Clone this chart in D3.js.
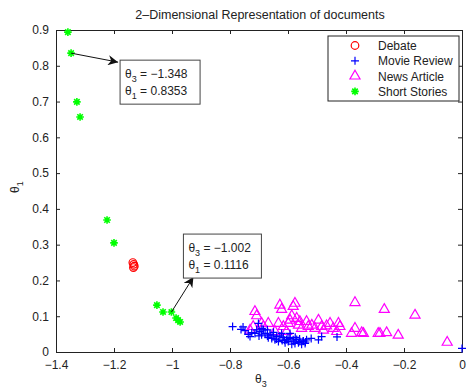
<!DOCTYPE html>
<html>
<head>
<meta charset="utf-8">
<script src="https://cdn.jsdelivr.net/npm/d3@7"></script>
<style>
  body { margin: 0; background: #fff; }
  text { font-family: "Liberation Sans", Arial, sans-serif; fill: #222; }
</style>
</head>
<body>
<svg id="chart" width="470" height="388"></svg>
<script>
// data
var debateX = [-1.135, -1.132, -1.130, -1.133]
var debateY = [0.250, 0.245, 0.240, 0.236]

var movieX = [-0.791, -0.762, -0.748, -0.737, -0.725, -0.714, -0.702, -0.697, -0.691, -0.679,
  -0.671, -0.662, -0.651, -0.639, -0.628, -0.616, -0.605, -0.593, -0.582, -0.570,
  -0.559, -0.547, -0.536, -0.495, -0.484, -0.622, -0.645, -0.599, -0.576, -0.553,
  -0.708, -0.685, -0.731, -0.656, -0.633, -0.610, -0.587, -0.564, -0.541, -0.593,
  -0.671, -0.431, -0.755, 0.000, -0.620, -0.580, -0.560, -0.600, -0.640, -0.540,
  -0.700, -0.668, -0.612, -0.575, -0.548, -0.520, -0.690, -0.650]
var movieY = [0.071, 0.063, 0.060, 0.049, 0.054, 0.052, 0.080, 0.057, 0.048, 0.052,
  0.045, 0.050, 0.047, 0.043, 0.045, 0.041, 0.035, 0.038, 0.034, 0.035,
  0.029, 0.031, 0.034, 0.034, 0.043, 0.052, 0.034, 0.029, 0.024, 0.022,
  0.062, 0.062, 0.043, 0.038, 0.029, 0.026, 0.022, 0.026, 0.024, 0.052,
  0.062, 0.042, 0.070, 0.010, 0.032, 0.030, 0.036, 0.040, 0.036, 0.028,
  0.045, 0.040, 0.033, 0.041, 0.030, 0.038, 0.066, 0.055]

var newsX = [-0.714, -0.708, -0.628, -0.622, -0.576, -0.582, -0.587, -0.593, -0.570, -0.559,
  -0.536, -0.518, -0.495, -0.507, -0.467, -0.455, -0.444, -0.426, -0.421, -0.432,
  -0.369, -0.369, -0.381, -0.346, -0.340, -0.289, -0.283, -0.260, -0.268, -0.220,
  -0.162, -0.051, -0.720, -0.668, -0.685, -0.633, -0.645, -0.616, -0.599, -0.553,
  -0.530, -0.478, -0.484, -0.731, -0.564, -0.605, -0.691]
var newsY = [0.113, 0.101, 0.131, 0.119, 0.136, 0.127, 0.101, 0.089, 0.094, 0.085,
  0.085, 0.075, 0.089, 0.066, 0.073, 0.080, 0.066, 0.080, 0.071, 0.057,
  0.138, 0.066, 0.052, 0.054, 0.052, 0.052, 0.052, 0.054, 0.119, 0.047,
  0.103, 0.027, 0.071, 0.080, 0.071, 0.080, 0.057, 0.071, 0.080, 0.066,
  0.071, 0.061, 0.071, 0.061, 0.075, 0.057, 0.080]

var storyX = [-1.359, -1.348, -1.328, -1.317, -1.224, -1.200, -1.052, -1.031, -1.002, -0.986, -0.979, -0.972]
var storyY = [0.894, 0.8353, 0.699, 0.657, 0.369, 0.305, 0.131, 0.112, 0.1116, 0.095, 0.089, 0.084]

var xTicks = [-1.4, -1.2, -1, -0.8, -0.6, -0.4, -0.2, 0]
var yTicks = [0, 0.1, 0.2, 0.3, 0.4, 0.5, 0.6, 0.7, 0.8, 0.9]
var legendLabels = ['Debate', 'Movie Review', 'News Article', 'Short Stories']
var notes = [
  { x: -1.348, y: 0.8353, dx: 47, dy: 9, bx: 49, by: 7, bw: 80, bh: 44 },
  { x: -1.002, y: 0.1116, dx: 22, dy: -35, bx: 12, by: -78, bw: 78, bh: 44 }
]

var svg = d3.select('#chart')
var plotL = 56, plotR = 462, plotT = 30, plotB = 352

var x = d3.scaleLinear().domain([-1.4, 0]).range([plotL, plotR])
var y = d3.scaleLinear().domain([0, 0.9]).range([plotB, plotT])

svg.append('text').attr('x', 260).attr('y', 19).attr('text-anchor', 'middle')
  .style('font-size', '12.5px').text('2\u2013Dimensional Representation of documents')

// axes, MATLAB style box with inward ticks
svg.append('g').attr('transform', 'translate(0,' + plotB + ')')
  .call(d3.axisBottom(x).tickValues(xTicks).tickSizeInner(-4).tickSizeOuter(0).tickPadding(8)
    .tickFormat(function (d) { return String(d).replace('-', '\u2212') }))
svg.append('g').attr('transform', 'translate(0,' + plotT + ')')
  .call(d3.axisTop(x).tickValues(xTicks).tickSizeInner(-4).tickSizeOuter(0).tickFormat(''))
svg.append('g').attr('transform', 'translate(' + plotL + ',0)')
  .call(d3.axisLeft(y).tickValues(yTicks).tickSizeInner(-4).tickSizeOuter(0).tickPadding(7)
    .tickFormat(function (d) { return d === 0 ? '0' : d3.format('.1f')(d) }))
svg.append('g').attr('transform', 'translate(' + plotR + ',0)')
  .call(d3.axisRight(y).tickValues(yTicks).tickSizeInner(-4).tickSizeOuter(0).tickFormat(''))
svg.selectAll('.domain').attr('stroke', '#222')
svg.selectAll('.tick line').attr('stroke', '#222')
svg.selectAll('.tick text').style('font-size', '12px').attr('fill', '#222')
  .style('font-family', '"Liberation Sans", Arial, sans-serif')

// axis labels
svg.append('text').attr('x', 255).attr('y', 383).style('font-size', '12px')
  .html('\u03b8<tspan dy="4" font-size="9">3</tspan>')
svg.append('text').attr('transform', 'translate(19,193) rotate(-90)').style('font-size', '12px')
  .html('\u03b8<tspan dy="4" font-size="9">1</tspan>')

// marker drawing
var g = svg.append('g')
function plus(sel, s) {
  return sel.attr('d', 'M' + -s + ',0H' + s + 'M0,' + -s + 'V' + s)
}
function star(sel, s) {
  var k = s * 0.72
  return sel.attr('d', 'M' + -s + ',0H' + s + 'M0,' + -s + 'V' + s +
    'M' + -k + ',' + -k + 'L' + k + ',' + k + 'M' + -k + ',' + k + 'L' + k + ',' + -k)
}
var tri = d3.symbol().type(d3.symbolTriangle).size(44)

g.selectAll('.news').data(d3.range(newsX.length)).join('path')
  .attr('d', tri).attr('fill', 'none').attr('stroke', '#ff00ff').attr('stroke-width', 1.2)
  .attr('transform', function (i) { return 'translate(' + x(newsX[i]) + ',' + y(newsY[i]) + ')' })

g.selectAll('.movie').data(d3.range(movieX.length)).join('path')
  .call(plus, 4).attr('fill', 'none').attr('stroke', '#0000ff').attr('stroke-width', 1.2)
  .attr('transform', function (i) { return 'translate(' + x(movieX[i]) + ',' + y(movieY[i]) + ')' })

g.selectAll('.debate').data(d3.range(debateX.length)).join('circle')
  .attr('r', 3.8).attr('fill', 'none').attr('stroke', '#ff0000').attr('stroke-width', 1.2)
  .attr('cx', function (i) { return x(debateX[i]) }).attr('cy', function (i) { return y(debateY[i]) })

g.selectAll('.story').data(d3.range(storyX.length)).join('path')
  .call(star, 3.8).attr('fill', 'none').attr('stroke', '#00ff00').attr('stroke-width', 1.6)
  .attr('transform', function (i) { return 'translate(' + x(storyX[i]) + ',' + y(storyY[i]) + ')' })

// data tip annotations
svg.append('defs').append('marker').attr('id', 'head').attr('viewBox', '0 -5 10 10')
  .attr('refX', 10).attr('refY', 0).attr('markerWidth', 10).attr('markerHeight', 10)
  .attr('markerUnits', 'userSpaceOnUse').attr('orient', 'auto')
  .append('path').attr('d', 'M0,-5L10,0L0,5L3,0Z').attr('fill', '#111')

notes.forEach(function (n) {
  var px = x(n.x), py = y(n.y)
  svg.append('line').attr('x1', px).attr('y1', py).attr('x2', px + n.dx).attr('y2', py + n.dy)
    .attr('stroke', '#111').attr('stroke-width', 1).attr('marker-end', 'url(#head)')
  var bx = px + n.bx, by = py + n.by
  svg.append('rect').attr('x', bx).attr('y', by).attr('width', n.bw).attr('height', n.bh)
    .attr('fill', '#fff').attr('stroke', '#444').attr('stroke-width', 1)
  svg.append('text').attr('x', bx + 5).attr('y', by + 18).style('font-size', '12px')
    .html('\u03b8<tspan dy="4" font-size="9">3</tspan><tspan dy="-4"> = ' +
      String(n.x).replace('-', '\u2212') + '</tspan>')
  svg.append('text').attr('x', bx + 5).attr('y', by + 35).style('font-size', '12px')
    .html('\u03b8<tspan dy="4" font-size="9">1</tspan><tspan dy="-4"> = ' + n.y + '</tspan>')
})

// legend
var lg = svg.append('g').attr('transform', 'translate(328,36)')
lg.append('rect').attr('width', 131).attr('height', 65).attr('fill', '#fff')
  .attr('stroke', '#222').attr('stroke-width', 1)
legendLabels.forEach(function (t, i) {
  var cy = 9.5 + i * 15.3
  if (i === 0) lg.append('circle').attr('cx', 27).attr('cy', cy).attr('r', 3.8)
    .attr('fill', 'none').attr('stroke', '#ff0000').attr('stroke-width', 1.2)
  if (i === 1) lg.append('path').call(plus, 4).attr('transform', 'translate(27,' + cy + ')')
    .attr('stroke', '#0000ff').attr('stroke-width', 1.2)
  if (i === 2) lg.append('path').attr('d', tri).attr('transform', 'translate(27,' + cy + ')')
    .attr('fill', 'none').attr('stroke', '#ff00ff').attr('stroke-width', 1.2)
  if (i === 3) lg.append('path').call(star, 3.8).attr('transform', 'translate(27,' + cy + ')')
    .attr('stroke', '#00ff00').attr('stroke-width', 1.6)
  lg.append('text').attr('x', 50).attr('y', cy + 4.5).style('font-size', '12px').text(t)
})
</script>
</body>
</html>
